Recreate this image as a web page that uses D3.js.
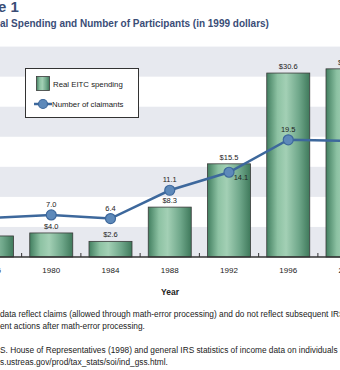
<!DOCTYPE html>
<html><head><meta charset="utf-8">
<script src="https://cdn.jsdelivr.net/npm/d3@7"></script>
<style>
html,body{margin:0;padding:0;background:#fff;overflow:hidden}
svg{display:block;font-family:"Liberation Sans",Arial,sans-serif}
</style></head>
<body>
<svg id="c" width="340" height="370"></svg>
<script>
const years = ["1976","1980","1984","1988","1992","1996","2000"];
const spending = [3.5, 4.0, 2.6, 8.3, 15.5, 30.6, 31.3];
const spendingLabels = ["$3.5","$4.0","$2.6","$8.3","$15.5","$30.6","$31.3"];
const claimants = [6.5, 7.0, 6.4, 11.1, 14.1, 19.5, 19.3];
const claimantLabels = ["6.5","7.0","6.4","11.1","14.1","19.5","19.3"];
const bandStarts = [0, 10, 20, 30];
const footnotes = [
  "data reflect claims (allowed through math-error processing) and do not reflect subsequent IRS",
  "ent actions after math-error processing.",
  "S. House of Representatives (1998) and general IRS statistics of income data on individuals a",
  "s.ustreas.gov/prod/tax_stats/soi/ind_gss.html."
];

const svg = d3.select("#c");
const x = d3.scalePoint().domain(years).range([-8, 347.5]);
const y = d3.scaleLinear().domain([0, 35]).range([257, 46.6]);
const barW = 43;

const defs = svg.append("defs");
const g = defs.append("linearGradient").attr("id","bg").attr("x1","0").attr("x2","1").attr("y1","0").attr("y2","0");
[[0,"#427f60"],[0.25,"#8dc2a3"],[0.45,"#a3d0b5"],[0.75,"#6fa78a"],[1,"#3f795b"]].forEach(s=>
  g.append("stop").attr("offset",s[0]).attr("stop-color",s[1]));

// bands
svg.selectAll("rect.band").data(bandStarts).join("rect")
  .attr("x",0).attr("width",340)
  .attr("y",d=>y(d+5)).attr("height",d=>y(d)-y(d+5))
  .attr("fill","#e7e9ef");

// bars
svg.selectAll("rect.bar").data(years).join("rect")
  .attr("x",d=>x(d)-barW/2).attr("width",barW)
  .attr("y",(d,i)=>y(spending[i])).attr("height",(d,i)=>y(0)-y(spending[i]))
  .attr("fill","url(#bg)").attr("stroke","#3a3a3a").attr("stroke-width",0.8);

// baseline
svg.append("line").attr("x1",0).attr("x2",340).attr("y1",y(0)).attr("y2",y(0))
  .attr("stroke","#333").attr("stroke-width",1.5);
const mids = years.slice(1).map((d,i)=>(x(years[i])+x(d))/2);
svg.selectAll("line.tk").data(mids).join("line")
  .attr("x1",d=>d).attr("x2",d=>d).attr("y1",y(0)-4).attr("y2",y(0))
  .attr("stroke","#333").attr("stroke-width",1);

// bar labels
svg.selectAll("text.bl").data(years).join("text")
  .attr("x",d=>x(d)).attr("y",(d,i)=>y(spending[i])-4)
  .attr("text-anchor","middle").attr("font-size",7.5).attr("fill","#222")
  .text((d,i)=>spendingLabels[i]);

// line
const line = d3.line().x((d,i)=>x(years[i])).y(d=>y(d));
svg.append("path").datum(claimants).attr("d",line)
  .attr("fill","none").attr("stroke","#3d689c").attr("stroke-width",2.5);
svg.selectAll("circle.pt").data(claimants).join("circle")
  .attr("cx",(d,i)=>x(years[i])).attr("cy",d=>y(d)).attr("r",5)
  .attr("fill","#5d89ba").attr("stroke","#3d689c").attr("stroke-width",1.2);
svg.selectAll("text.pl").data(claimants).join("text")
  .attr("x",(d,i)=>x(years[i]) + (years[i]==="1992"?12:0))
  .attr("y",(d,i)=>y(d) + (years[i]==="1992"?8:-8))
  .attr("text-anchor","middle").attr("font-size",7.5).attr("fill","#222")
  .text((d,i)=>claimantLabels[i]);

// x labels
svg.selectAll("text.xl").data(years).join("text")
  .attr("x",d=>x(d)).attr("y",273)
  .attr("text-anchor","middle").attr("font-size",8).attr("fill","#222")
  .text(d=>d);
svg.append("text").attr("x",170).attr("y",295).attr("text-anchor","middle")
  .attr("font-size",8.5).attr("font-weight","bold").attr("fill","#222").text("Year");

// legend
const lg = svg.append("g");
lg.append("rect").attr("x",25.5).attr("y",68.5).attr("width",113).attr("height",49)
  .attr("fill","#fff").attr("stroke","#333").attr("stroke-width",1);
lg.append("rect").attr("x",36.5).attr("y",76.5).attr("width",13).attr("height",14)
  .attr("fill","url(#bg)").attr("stroke","#3a3a3a").attr("stroke-width",0.8);
lg.append("text").attr("x",53).attr("y",86.5).attr("font-size",7.8).attr("fill","#222").text("Real EITC spending");
lg.append("line").attr("x1",34).attr("x2",52).attr("y1",104).attr("y2",104)
  .attr("stroke","#3d689c").attr("stroke-width",2.5);
lg.append("circle").attr("cx",43).attr("cy",104).attr("r",4.5)
  .attr("fill","#5d89ba").attr("stroke","#3d689c").attr("stroke-width",1.2);
lg.append("text").attr("x",52).attr("y",106.5).attr("font-size",7.8).attr("fill","#222").text("Number of claimants");

// title
svg.append("text").attr("x",-2).attr("y",12).attr("font-size",15).attr("font-weight","bold")
  .attr("fill","#3a4d77").text("e 1");
svg.append("text").attr("x",0).attr("y",27).attr("font-size",10).attr("font-weight","bold")
  .attr("fill","#3a4d77").text("al Spending and Number of Participants (in 1999 dollars)");

// footnotes
const fy = [317, 329, 353, 365];
svg.selectAll("text.fn").data(footnotes).join("text")
  .attr("x",0).attr("y",(d,i)=>fy[i]).attr("font-size",8.3).attr("fill","#222")
  .text(d=>d);
</script>
</body></html>
